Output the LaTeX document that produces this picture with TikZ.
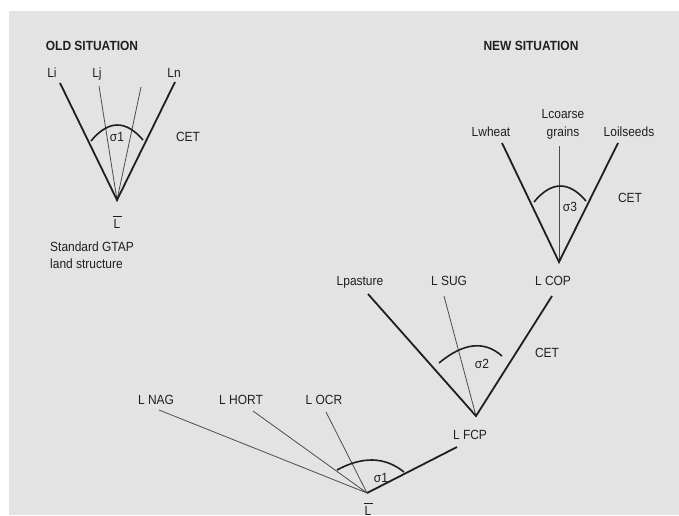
\documentclass[tikz,border=0pt]{standalone}
\usepackage{fontspec}
\setmainfont{Liberation Sans}[FakeStretch=0.9]
% L with a bar over it (total land endowment)
\newcommand\barL{\vbox{\hrule width 9pt height 1.3pt\kern 2pt\hbox to 9pt{\hss L\hss}}}
\begin{document}
\begin{tikzpicture}[x=1pt,y=-1pt,
  lbl/.style={inner sep=0pt,anchor=base,text=black!88,font=\fontsize{13.3}{15}\selectfont},
  ttl/.style={lbl,font=\fontsize{13.3}{15}\selectfont\bfseries},
  main/.style={line width=1.8pt,draw=black!88},
  minor/.style={line width=0.8pt,draw=black!70},
  elast/.style={line width=1.6pt,draw=black!88}]
\useasboundingbox (0,0) rectangle (679,515);
\clip (0,0) rectangle (679,515);
\fill[fill=black!11] (9,11) rectangle (679,515);

% ---------------- old structure ----------------
\node[ttl] (oldt) at (92,50) {OLD SITUATION};
\node[lbl] (li) at (52,77.5) {Li};
\node[lbl] (lj) at (97,77.5) {Lj};
\node[lbl] (ln) at (174,77.5) {Ln};
\coordinate (oapex) at (117,200);
\coordinate (oi) at (60,83);
\coordinate (oj) at (99,86);
\coordinate (ok) at (141,87);
\coordinate (on) at (175,82);
\draw[minor] (oj) -- (oapex) -- (ok);
\draw[main] (oi) -- (oapex) -- (on);
\draw[elast] (91,141) .. controls (108.3,120) and (125.7,119.7) .. (143,140);
\node[lbl] (os1) at (117,141.5) {σ1};
\node[lbl] (ocet) at (188,141) {CET};
\node[lbl] (olbar) at (117,228) {\barL};
\node[lbl,anchor=base west,align=left] (gtap) at (50,268) {Standard GTAP\\[2pt]land structure};

% ---------------- new structure ----------------
\node[ttl] (newt) at (531,50) {NEW SITUATION};

% top nest: crops
\node[lbl] (wheat) at (491,136) {Lwheat};
\node[lbl] (coarse1) at (563,118) {Lcoarse};
\node[lbl] (coarse2) at (563,136) {grains};
\node[lbl] (oils) at (629,136) {Loilseeds};
\coordinate (cop) at (559,262);
\coordinate (cw) at (502,143);
\coordinate (cc) at (559,146);
\coordinate (co) at (618,143);
\draw[minor] (cc) -- (cop);
\draw[main] (cw) -- (cop) -- (co);
\draw[elast] (534,202) .. controls (551.3,181) and (568.7,180.7) .. (586,201);
\node[lbl] (s3) at (570,211) {σ3};
\node[lbl] (cet3) at (630,202) {CET};
\node[lbl] (lcop) at (553,285) {L COP};

% middle nest: field crops and pasture
\node[lbl] (past) at (360,285) {Lpasture};
\node[lbl] (sug) at (449,285) {L SUG};
\coordinate (fcp) at (476,416);
\coordinate (fp) at (368,294);
\coordinate (fs) at (444,296);
\coordinate (fc) at (552,296);
\draw[minor] (fs) -- (fcp);
\draw[main] (fp) -- (fcp) -- (fc);
\draw[elast] (439,363) .. controls (463.3,342.7) and (484.3,340.3) .. (502,356);
\node[lbl] (s2) at (482,368) {σ2};
\node[lbl] (cet2) at (547,357) {CET};
\node[lbl] (lfcp) at (470,439) {L FCP};

% bottom nest: total land
\node[lbl] (nag) at (156,404) {L NAG};
\node[lbl] (hort) at (241,404) {L HORT};
\node[lbl] (ocr) at (324,404) {L OCR};
\coordinate (tot) at (367,493);
\coordinate (tn) at (159,410);
\coordinate (th) at (253,411);
\coordinate (to) at (326,412);
\coordinate (tf) at (457,447);
\draw[minor] (tn) -- (tot) (th) -- (tot) (to) -- (tot);
\draw[main] (tot) -- (tf);
\draw[elast] (337,470) .. controls (362.7,456) and (385,456.7) .. (404,472);
\node[lbl] (s1) at (381,482) {σ1};
\node[lbl] (nlbar) at (368,515) {\barL};
\end{tikzpicture}
\end{document}
